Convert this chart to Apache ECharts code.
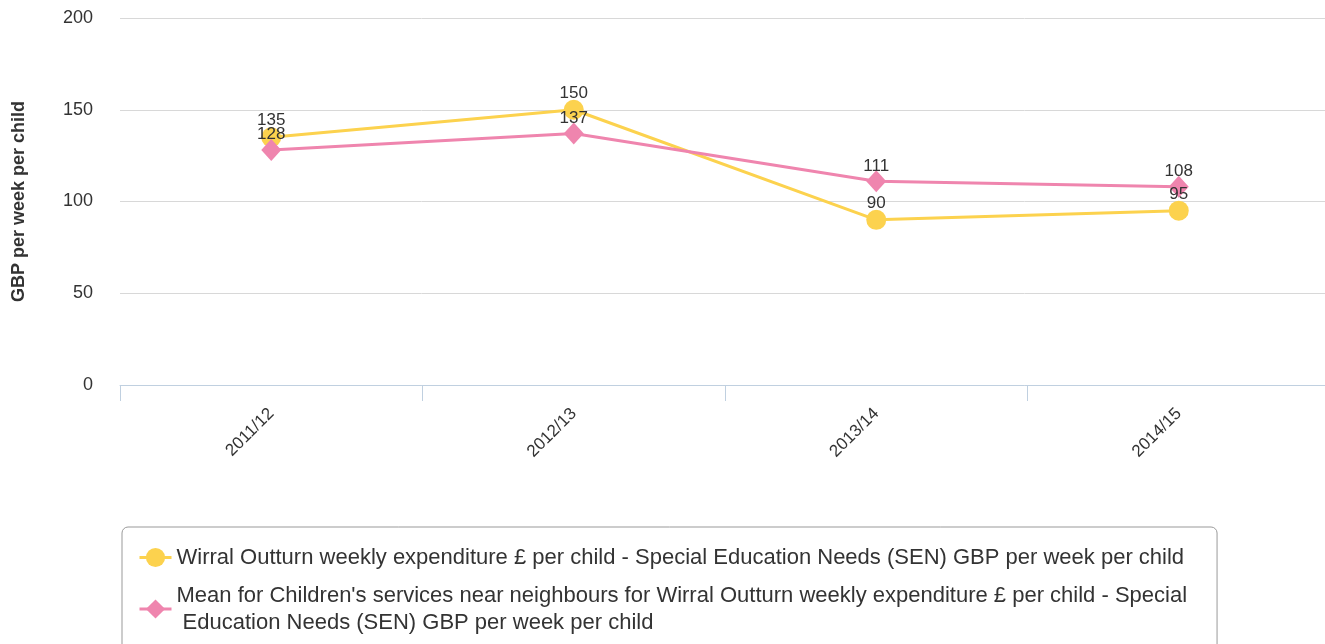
<!DOCTYPE html>
<html>
<head>
<meta charset="utf-8">
<script src="https://cdn.jsdelivr.net/npm/echarts@6/dist/echarts.min.js"></script>
<style>
  html, body { margin: 0; padding: 0; background: #fff; }
  #chart { width: 1325px; height: 644px; }
</style>
</head>
<body>
<div id="chart"></div>
<script>
// data
const years = ['2011/12', '2012/13', '2013/14', '2014/15']
const wirral = [135, 150, 90, 95]
const neighbours = [128, 137, 111, 108]

const wirralName = 'Wirral Outturn weekly expenditure £ per child - Special Education Needs (SEN) GBP per week per child'
const neighboursName = "Mean for Children's services near neighbours for Wirral Outturn weekly expenditure £ per child - Special Education Needs (SEN) GBP per week per child"

const chart = echarts.init(document.getElementById('chart'))
const font = '"Liberation Sans", Arial, sans-serif'

chart.setOption({
  animation: false,
  textStyle: { fontFamily: font },
  grid: { left: 120, right: -5, top: 18, bottom: 259, outerBoundsMode: 'none', containLabel: false },
  legend: {
    orient: 'vertical',
    left: 122,
    top: 527,
    height: 300,
    padding: [17, 30, 40, 16],
    itemGap: 11,
    itemWidth: 32,
    itemHeight: 24,
    borderColor: '#999',
    borderWidth: 1,
    borderRadius: 6,
    lineStyle: { width: 3 },
    textStyle: { fontSize: 22, color: '#333', fontFamily: font, lineHeight: 27, align: 'left' },
    formatter: function (name) {
      if (name === neighboursName) {
        return "Mean for Children's services near neighbours for Wirral Outturn weekly expenditure £ per child - Special\n Education Needs (SEN) GBP per week per child"
      }
      return name
    },
    data: [wirralName, neighboursName]
  },
  xAxis: {
    type: 'category',
    data: years,
    boundaryGap: true,
    axisLine: { lineStyle: { color: '#c0d0e0', width: 1 } },
    axisTick: { show: true, length: 16, alignWithLabel: false, lineStyle: { color: '#c0d0e0' } },
    axisLabel: { rotate: 45, fontSize: 17, color: '#333', margin: 26, fontFamily: font }
  },
  yAxis: {
    type: 'value',
    min: 0,
    max: 200,
    interval: 50,
    name: 'GBP per week per child',
    nameLocation: 'middle',
    nameGap: 92,
    nameTextStyle: { fontSize: 18, fontWeight: 'bold', color: '#333', fontFamily: font },
    axisLine: { show: false },
    axisTick: { show: false },
    axisLabel: { fontSize: 18, color: '#333', margin: 27, fontFamily: font },
    splitLine: { lineStyle: { color: '#d8d8d8', width: 1 } }
  },
  series: [
    {
      name: wirralName,
      type: 'line',
      data: wirral,
      color: '#fcd24e',
      symbol: 'circle',
      symbolSize: 20,
      lineStyle: { width: 3 },
      label: { show: true, position: 'top', distance: -2, fontSize: 17, color: '#333', fontFamily: font }
    },
    {
      name: neighboursName,
      type: 'line',
      data: neighbours,
      color: '#ef85ae',
      symbol: 'diamond',
      symbolSize: [20, 22],
      lineStyle: { width: 3 },
      label: { show: true, position: 'top', distance: -4, fontSize: 17, color: '#333', fontFamily: font }
    }
  ]
})
</script>
</body>
</html>
